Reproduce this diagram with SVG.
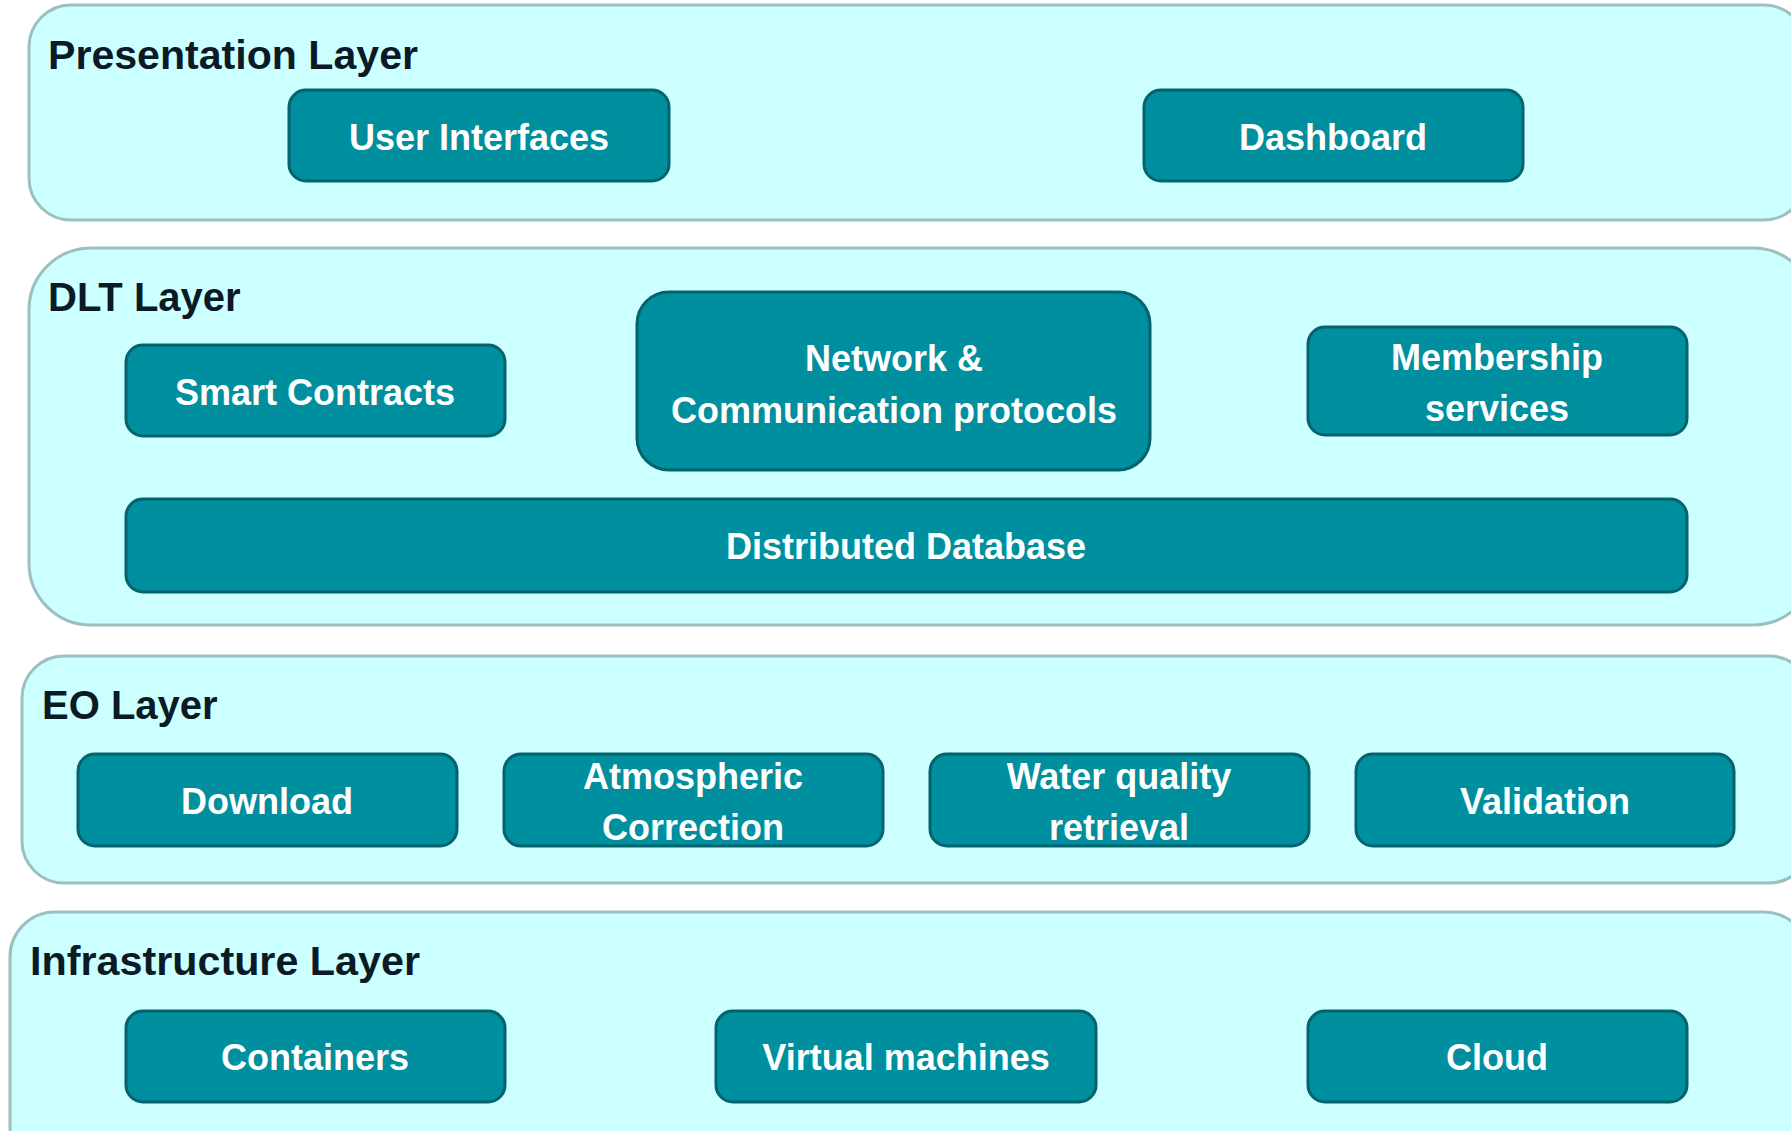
<svg xmlns="http://www.w3.org/2000/svg" width="1791" height="1131" viewBox="0 0 1791 1131">
  <style>
    .layer { fill: #CCFFFF; stroke: #9CC0C0; stroke-width: 3; }
    .box { fill: #008F9E; stroke: #05636D; stroke-width: 3; }
    .title { font-family: "Liberation Sans", Arial, sans-serif; font-weight: bold; font-size: 40px; fill: #0B1A24; }
    .label { font-family: "Liberation Sans", Arial, sans-serif; font-weight: bold; font-size: 36px; fill: #FFFFFF; text-anchor: middle; }
  </style>
  <rect width="1791" height="1131" fill="#FFFFFF"/>

  <!-- Presentation layer -->
  <g id="presentation-layer">
    <rect class="layer" x="29" y="5" width="1777" height="215" rx="42" ry="42"/>
    <text class="title" x="48" y="69" textLength="370" lengthAdjust="spacingAndGlyphs">Presentation Layer</text>
  </g>
  <g id="user-interfaces">
    <rect class="box" x="289" y="90" width="380" height="91" rx="17" ry="17"/>
    <text class="label" x="479" y="150">User Interfaces</text>
  </g>
  <g id="dashboard">
    <rect class="box" x="1144" y="90" width="379" height="91" rx="17" ry="17"/>
    <text class="label" x="1333" y="150">Dashboard</text>
  </g>

  <!-- DLT layer -->
  <g id="dlt-layer">
    <rect class="layer" x="29" y="248" width="1786" height="377" rx="62" ry="62"/>
    <text class="title" x="48" y="311">DLT Layer</text>
  </g>
  <g id="smart-contracts">
    <rect class="box" x="126" y="345" width="379" height="91" rx="17" ry="17"/>
    <text class="label" x="315" y="405">Smart Contracts</text>
  </g>
  <g id="network-protocols">
    <rect class="box" x="637" y="292" width="513" height="178" rx="32" ry="32"/>
    <text class="label" x="894" y="371">Network &amp;</text>
    <text class="label" x="894" y="423">Communication protocols</text>
  </g>
  <g id="membership-services">
    <rect class="box" x="1308" y="327" width="379" height="108" rx="17" ry="17"/>
    <text class="label" x="1497" y="370">Membership</text>
    <text class="label" x="1497" y="421">services</text>
  </g>
  <g id="distributed-database">
    <rect class="box" x="126" y="499" width="1561" height="93" rx="17" ry="17"/>
    <text class="label" x="906" y="559">Distributed Database</text>
  </g>

  <!-- EO layer -->
  <g id="eo-layer">
    <rect class="layer" x="22" y="656" width="1789" height="227" rx="42" ry="42"/>
    <text class="title" x="42" y="719">EO Layer</text>
  </g>
  <g id="download">
    <rect class="box" x="78" y="754" width="379" height="92" rx="17" ry="17"/>
    <text class="label" x="267" y="814">Download</text>
  </g>
  <g id="atmospheric-correction">
    <rect class="box" x="504" y="754" width="379" height="92" rx="17" ry="17"/>
    <text class="label" x="693" y="789">Atmospheric</text>
    <text class="label" x="693" y="840">Correction</text>
  </g>
  <g id="water-quality-retrieval">
    <rect class="box" x="930" y="754" width="379" height="92" rx="17" ry="17"/>
    <text class="label" x="1119" y="789">Water quality</text>
    <text class="label" x="1119" y="840">retrieval</text>
  </g>
  <g id="validation">
    <rect class="box" x="1356" y="754" width="378" height="92" rx="17" ry="17"/>
    <text class="label" x="1545" y="814">Validation</text>
  </g>

  <!-- Infrastructure layer -->
  <g id="infrastructure-layer">
    <rect class="layer" x="10" y="912" width="1799" height="260" rx="45" ry="45"/>
    <text class="title" x="30" y="975" textLength="390" lengthAdjust="spacingAndGlyphs">Infrastructure Layer</text>
  </g>
  <g id="containers">
    <rect class="box" x="126" y="1011" width="379" height="91" rx="17" ry="17"/>
    <text class="label" x="315" y="1070">Containers</text>
  </g>
  <g id="virtual-machines">
    <rect class="box" x="716" y="1011" width="380" height="91" rx="17" ry="17"/>
    <text class="label" x="906" y="1070">Virtual machines</text>
  </g>
  <g id="cloud">
    <rect class="box" x="1308" y="1011" width="379" height="91" rx="17" ry="17"/>
    <text class="label" x="1497" y="1070">Cloud</text>
  </g>

  <!-- no connectors between the stacked layers -->
  <g id="connectors"/>
</svg>
